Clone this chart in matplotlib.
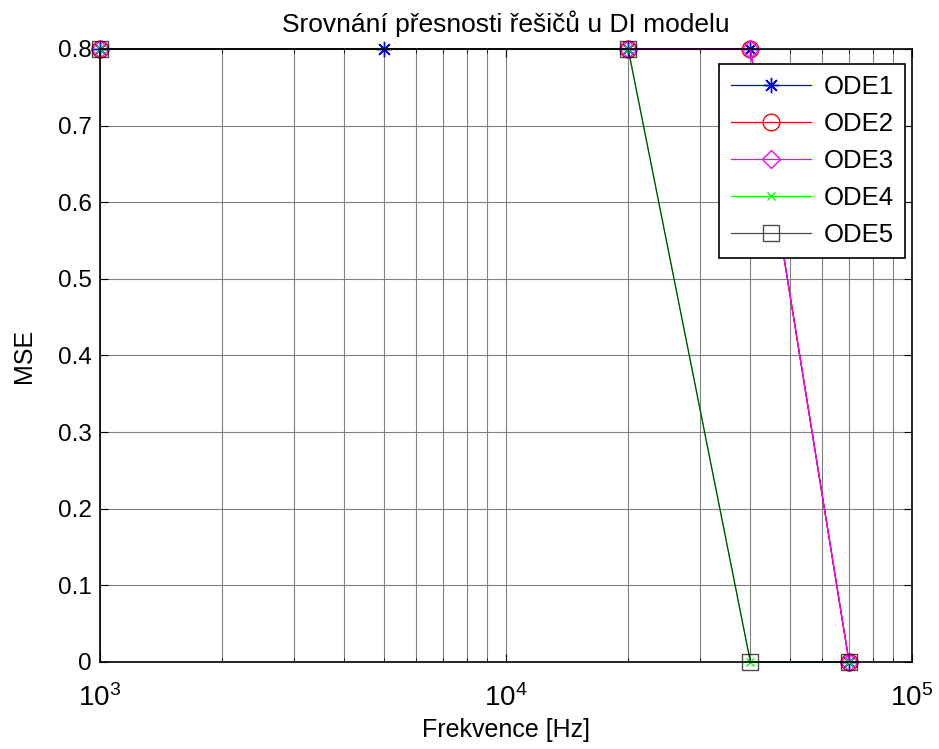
import matplotlib
matplotlib.use("Agg")
import matplotlib.pyplot as plt
from matplotlib.ticker import NullFormatter

plt.rcParams['font.family'] = ['Liberation Sans', 'DejaVu Sans']
plt.rcParams['mathtext.default'] = 'regular'

# data
f_ode1 = [1000, 5000, 20000, 40000, 70000]
mse_ode1 = [0.8, 0.8, 0.8, 0.8, 0.0]
f_rest = [1000, 20000, 40000, 70000]
mse_ode2 = [0.8, 0.8, 0.8, 0.0]
mse_ode3 = [0.8, 0.8, 0.8, 0.0]
mse_ode4 = [0.8, 0.8, 0.0, 0.0]
mse_ode5 = [0.8, 0.8, 0.0, 0.0]
labels = ['ODE1', 'ODE2', 'ODE3', 'ODE4', 'ODE5']
xticks = [1e3, 1e4, 1e5]
xticklabels = ['$10^{3}$', '$10^{4}$', '$10^{5}$']
yticks = [0, 0.1, 0.2, 0.3, 0.4, 0.5, 0.6, 0.7, 0.8]
yticklabels = ['0', '0.1', '0.2', '0.3', '0.4', '0.5', '0.6', '0.7', '0.8']

fig = plt.figure(figsize=(9.39, 7.49), dpi=100)
ax = fig.add_axes([0.1065, 0.1162, 0.8647, 0.8184])

common = dict(lw=0.9, mew=1, clip_on=False)
ax.plot(f_ode1, mse_ode1, '-', marker=(8, 2, 0), color='#0000ff', ms=11, label=labels[0], **common)
ax.plot(f_rest, mse_ode2, '-o', color='#ff0000', ms=12, mfc='none', label=labels[1], **common)
ax.plot(f_rest, mse_ode3, '-D', color='#ff00ff', ms=9, mfc='none', label=labels[2], **common)
ax.plot(f_rest, mse_ode4, '-x', color='#00ff00', ms=6, label=labels[3], **common)
ax.plot(f_rest, mse_ode5, '-s', color='#000000', ms=11.5, mfc='none', alpha=0.7, label=labels[4], **common)

ax.set_xscale('log')
ax.set_xlim(1000, 100000)
ax.set_ylim(0, 0.8)
ax.set_xticks(xticks)
ax.set_xticklabels(xticklabels)
ax.set_yticks(yticks)
ax.set_yticklabels(yticklabels)
ax.grid(True, which='major', color='#808080', lw=0.8)
ax.grid(True, which='minor', axis='x', color='#808080', lw=0.8)
ax.tick_params(which='both', direction='in', top=True, right=True, labelsize=17.5)
ax.tick_params(which='major', length=6)
ax.tick_params(which='minor', length=3)
ax.tick_params(axis='x', which='major', pad=16, labelsize=20)
ax.tick_params(axis='y', which='major', pad=6)
ax.xaxis.set_minor_formatter(NullFormatter())
for s in ax.spines.values():
    s.set_linewidth(1.2)

ax.set_title('Srovnání přesnosti řešičů u DI modelu', fontsize=19, pad=12)
ax.set_xlabel('Frekvence [Hz]', fontsize=18, labelpad=4)
ax.set_ylabel('MSE', fontsize=18, labelpad=16)

leg = ax.legend(loc='upper right', fontsize=18.5, fancybox=False, framealpha=1,
                edgecolor='black', handlelength=3.1, borderpad=0.45,
                labelspacing=0.5, handletextpad=0.5, borderaxespad=0,
                bbox_to_anchor=(0.9915, 0.976))
leg.get_frame().set_linewidth(1.2)

fig.savefig('out.png', dpi=100)
